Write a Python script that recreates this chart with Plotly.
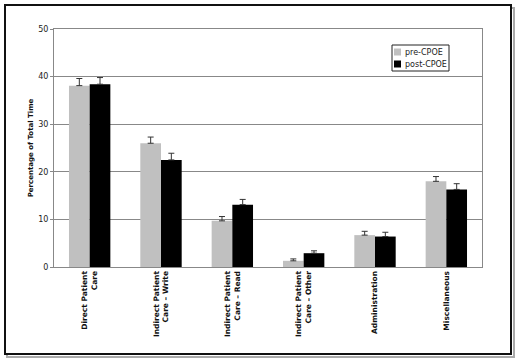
import plotly.graph_objects as go

categories = ["Direct Patient<br>Care", "Indirect Patient<br>Care – Write", "Indirect Patient<br>Care – Read",
              "Indirect Patient<br>Care – Other", "Administration", "Miscellaneous"]
pre_values = [38.1, 26.0, 9.7, 1.3, 6.7, 18.0]
pre_err = [1.5, 1.3, 0.9, 0.4, 0.8, 1.0]
post_values = [38.4, 22.5, 13.1, 2.9, 6.4, 16.3]
post_err = [1.4, 1.4, 1.1, 0.5, 0.9, 1.2]
y_ticks = [0, 10, 20, 30, 40, 50]
series_names = ["pre-CPOE", "post-CPOE"]
series_colors = ["#c0c0c0", "#000000"]

font = "DejaVu Sans"

fig = go.Figure()
for name, vals, errs, col in [(series_names[0], pre_values, pre_err, series_colors[0]),
                              (series_names[1], post_values, post_err, series_colors[1])]:
    fig.add_trace(go.Bar(
        x=categories, y=vals, name=name, marker=dict(color=col, line=dict(width=0)),
        error_y=dict(type="data", array=errs, arrayminus=[0] * len(errs), symmetric=False,
                     color="#333333", thickness=1, width=3)))

L, R, T, B = 54, 38, 29, 94
W, H = 520, 361
pw, ph = W - L - R, H - T - B

def px(x):
    return (x - L) / pw

def py(y):
    return (H - B - y) / ph

# outer frame with shadow
fig.add_shape(type="rect", xref="paper", yref="paper",
              x0=px(7), x1=px(514), y0=py(357), y1=py(8),
              line=dict(color="#aaaaaa", width=2), layer="below")
fig.add_shape(type="rect", xref="paper", yref="paper",
              x0=px(5), x1=px(511), y0=py(354), y1=py(5),
              line=dict(color="#111111", width=2), fillcolor="white", layer="below")

# legend box
fig.add_shape(type="rect", xref="paper", yref="paper",
              x0=px(392), x1=px(449), y0=py(71), y1=py(45),
              line=dict(color="#222222", width=1), fillcolor="white")
for i, (name, col) in enumerate(zip(series_names, series_colors)):
    cy = 52 + 12 * i
    fig.add_shape(type="rect", xref="paper", yref="paper",
                  x0=px(394), x1=px(401), y0=py(cy + 3.5), y1=py(cy - 3.5),
                  line=dict(width=0), fillcolor=col)
    fig.add_annotation(xref="paper", yref="paper", x=px(403), y=py(cy), text=name,
                       showarrow=False, xanchor="left", yanchor="middle",
                       font=dict(family=font, size=8, color="#222222"))

fig.update_layout(
    width=W, height=H,
    margin=dict(l=L, r=R, t=T, b=B),
    paper_bgcolor="white", plot_bgcolor="white",
    barmode="group", bargap=0.42, bargroupgap=0.0,
    font=dict(family=font, size=7, color="#222222"),
    showlegend=False,
    xaxis=dict(tickangle=-90, showline=True, linecolor="#888888", linewidth=1, mirror=True,
               ticks="", tickfont=dict(family=font, size=7.5, color="#111111", weight="bold")),
    yaxis=dict(range=[0, 50], tickvals=y_ticks, showgrid=True, gridcolor="#888888", gridwidth=1,
               showline=True, linecolor="#888888", linewidth=1, mirror=True,
               ticks="outside", ticklen=3, tickcolor="#888888",
               tickfont=dict(family=font, size=8, color="#222222"),
               title=dict(text="<b>Percentage of Total Time</b>", font=dict(family=font, size=7, color="#111111"),
                          standoff=3)),
)

fig.write_html("out.html", config={"displayModeBar": False},
               post_script="document.body.style.margin='0px';")
